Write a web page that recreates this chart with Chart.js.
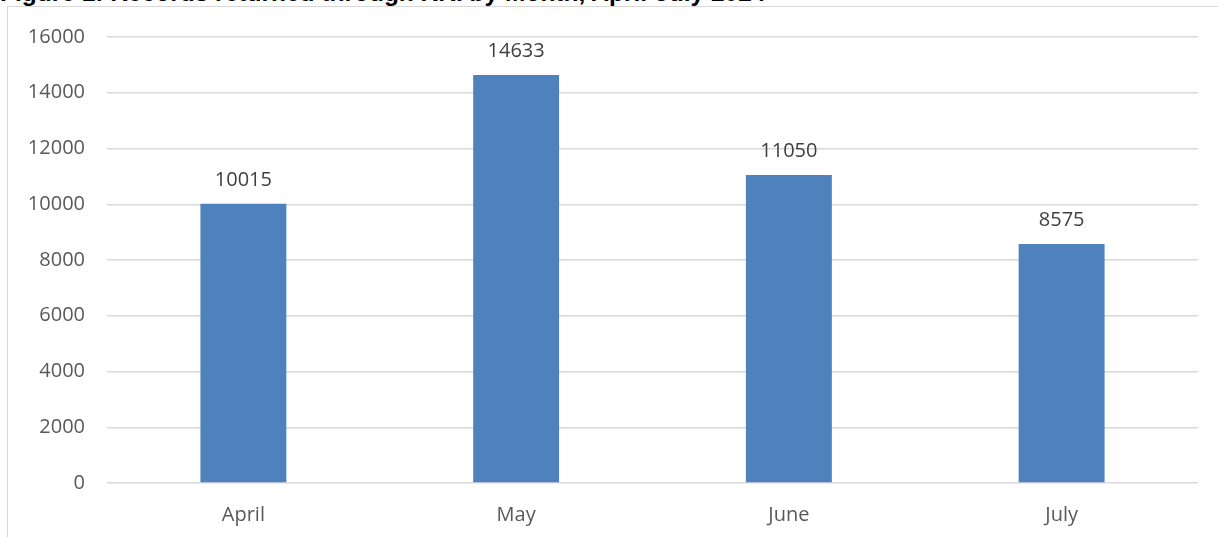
<!DOCTYPE html>
<html>
<head>
<meta charset="utf-8">
<script src="https://cdn.jsdelivr.net/npm/chart.js@4/dist/chart.umd.min.js"></script>
<style>
    html, body { margin: 0; padding: 0; background: #fff; overflow: hidden; }
    #wrap { position: relative; width: 1218px; height: 537px; }
    #naslov {
        position: absolute; left: 0; top: -19px; white-space: nowrap;
        font: bold 24.5px "Liberation Sans", Arial, sans-serif; line-height: 24px; color: #000;
    }
    #okvir {
        position: absolute; left: 7px; top: 6px; width: 1230px; height: 560px;
        border: 1px solid #d9d9d9; box-sizing: border-box;
    }
    canvas { position: absolute; left: 0; top: 0; }
</style>
</head>
<body>
<div id="wrap">
    <div id="naslov">Figure 1: Records returned through RRI by Month, April-July 2024</div>
    <div id="okvir"></div>
    <canvas id="grafikon" width="1218" height="537"></canvas>
</div>
<script>
const mjeseci = ['April', 'May', 'June', 'July'];
const vrijednosti = [10015, 14633, 11050, 8575];
const yTicks = [0, 2000, 4000, 6000, 8000, 10000, 12000, 14000, 16000];

const fontTekst = '"Open Sans", "Liberation Sans", sans-serif';

// oznake iznad stupaca
const oznakePlugin = {
    id: 'oznake',
    afterDatasetsDraw(chart) {
        const ctx = chart.ctx;
        const meta = chart.getDatasetMeta(0);
        ctx.save();
        ctx.font = '20px ' + fontTekst;
        ctx.fillStyle = '#404040';
        ctx.textAlign = 'center';
        ctx.textBaseline = 'middle';
        meta.data.forEach((bar, i) => {
            ctx.fillText(String(vrijednosti[i]), bar.x, bar.y - 24);
        });
        ctx.restore();
    }
};

const ctx = document.getElementById('grafikon').getContext('2d');
new Chart(ctx, {
    type: 'bar',
    data: {
        labels: mjeseci,
        datasets: [{
            data: vrijednosti,
            backgroundColor: '#4f81bd',
            borderWidth: 0,
            categoryPercentage: 1,
            barPercentage: 0.315
        }]
    },
    options: {
        responsive: false,
        animation: false,
        layout: { padding: { left: 0, right: 20, top: 37, bottom: 0 } },
        plugins: {
            legend: { display: false },
            tooltip: { enabled: false }
        },
        scales: {
            x: {
                grid: { display: false, drawTicks: false },
                border: { display: false },
                ticks: { color: '#595959', font: { size: 20, family: fontTekst }, padding: 20 },
                afterFit(scale) { scale.height = 54; }
            },
            y: {
                min: 0,
                max: 16000,
                afterBuildTicks(scale) { scale.ticks = yTicks.map(v => ({ value: v })); },
                grid: { color: '#d9d9d9', lineWidth: 1.5, drawTicks: false },
                border: { display: false },
                ticks: {
                    color: '#595959', font: { size: 20, family: fontTekst }, padding: 22,
                    callback: v => String(v)
                },
                afterFit(scale) { scale.width = 107; }
            }
        }
    },
    plugins: [oznakePlugin]
});
</script>
</body>
</html>
